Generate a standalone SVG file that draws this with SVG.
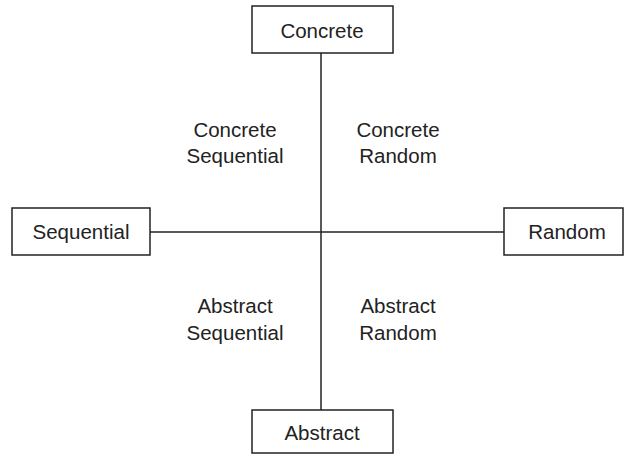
<svg xmlns="http://www.w3.org/2000/svg" width="632" height="457" viewBox="0 0 632 457">
<style>
.box{fill:#fff;stroke:#222;stroke-width:1.5}
.ln{stroke:#222;stroke-width:1.5;fill:none}
text{font-family:"Liberation Sans",Arial,sans-serif;font-size:20.5px;fill:#222;text-anchor:middle}
</style>
<rect width="632" height="457" fill="#fff"/>
<g id="connectors">
<line class="ln" x1="321" y1="53" x2="321" y2="410"/>
<line class="ln" x1="150" y1="232" x2="504" y2="232"/>
</g>
<g id="concrete"><rect class="box" x="252" y="6" width="141" height="47"/><text x="322" y="38">Concrete</text></g>
<g id="sequential"><rect class="box" x="12" y="208" width="138" height="47"/><text x="81" y="239">Sequential</text></g>
<g id="random"><rect class="box" x="504" y="208" width="119" height="47"/><text x="567" y="239">Random</text></g>
<g id="abstract"><rect class="box" x="252" y="410" width="141" height="43"/><text x="322" y="440">Abstract</text></g>
<g id="q-cs"><text x="235" y="137">Concrete</text><text x="235" y="163">Sequential</text></g>
<g id="q-cr"><text x="398" y="137">Concrete</text><text x="398" y="163">Random</text></g>
<g id="q-as"><text x="235" y="313">Abstract</text><text x="235" y="340">Sequential</text></g>
<g id="q-ar"><text x="398" y="313">Abstract</text><text x="398" y="340">Random</text></g>
</svg>
